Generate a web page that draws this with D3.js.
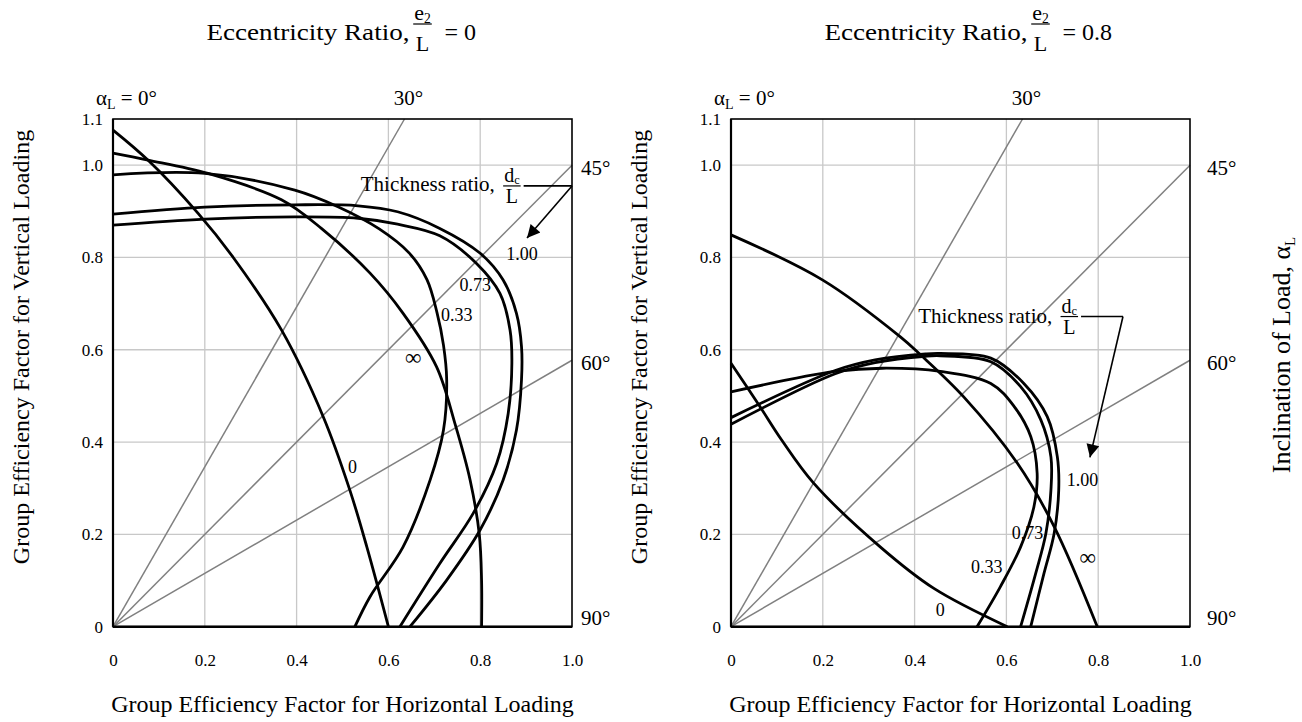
<!DOCTYPE html>
<html>
<head>
<meta charset="utf-8">
<script src="https://cdn.jsdelivr.net/npm/d3@7"></script>
<style>
body { margin: 0; background: #fff; }
svg text { font-family: "Liberation Serif", "Times New Roman", serif; fill: #000; }
</style>
</head>
<body>
<svg id="chart" width="1302" height="722"></svg>
<script>
// axis ticks
const xTicks = [0, 0.2, 0.4, 0.6, 0.8, 1.0];
const yTicks = [0, 0.2, 0.4, 0.6, 0.8, 1.0, 1.1];
// inclination rays (degrees from vertical)
const rayAngles = [30, 45, 60];
const eccRatios = ["0", "0.8"];
const curveNames = ["0", "\u221e", "0.33", "0.73", "1.00"];

// e2/L = 0 : [horizontal factor, vertical factor]
const ecc0_d0 = [[0,1.076],[0.076,1.011],[0.185,0.896],[0.262,0.8],[0.367,0.643],[0.458,0.455],[0.516,0.296],[0.553,0.173],[0.6,0]];
const ecc0_dInf = [[0,1.026],[0.076,1.011],[0.207,0.982],[0.367,0.925],[0.454,0.863],[0.56,0.766],[0.632,0.679],[0.705,0.563],[0.745,0.44],[0.778,0.318],[0.798,0.2],[0.803,0.1],[0.803,0]];
const ecc0_d033 = [[0,0.979],[0.2,0.982],[0.396,0.946],[0.49,0.91],[0.58,0.862],[0.645,0.81],[0.684,0.752],[0.706,0.68],[0.72,0.61],[0.727,0.535],[0.72,0.426],[0.691,0.318],[0.632,0.173],[0.56,0.065],[0.527,0]];
const ecc0_d073 = [[0,0.870],[0.2,0.883],[0.396,0.888],[0.534,0.885],[0.62,0.872],[0.712,0.847],[0.792,0.787],[0.843,0.722],[0.865,0.643],[0.869,0.571],[0.861,0.462],[0.836,0.354],[0.785,0.246],[0.712,0.137],[0.625,0]];
const ecc0_d100 = [[0,0.894],[0.2,0.909],[0.396,0.914],[0.534,0.912],[0.62,0.899],[0.712,0.863],[0.8,0.809],[0.85,0.751],[0.879,0.679],[0.89,0.607],[0.89,0.535],[0.879,0.426],[0.85,0.318],[0.8,0.21],[0.727,0.101],[0.647,0]];

// e2/L = 0.8
const ecc8_d0 = [[0,0.571],[0.063,0.477],[0.11,0.405],[0.18,0.311],[0.325,0.173],[0.442,0.083],[0.602,0]];
const ecc8_dInf = [[0,0.849],[0.2,0.751],[0.369,0.628],[0.413,0.589],[0.507,0.498],[0.624,0.354],[0.704,0.217],[0.798,0]];
const ecc8_d033 = [[0,0.509],[0.227,0.553],[0.33,0.56],[0.456,0.553],[0.566,0.527],[0.617,0.477],[0.653,0.412],[0.667,0.332],[0.66,0.26],[0.631,0.173],[0.587,0.087],[0.536,0]];
const ecc8_d073 = [[0,0.4385],[0.227,0.548],[0.314,0.572],[0.424,0.586],[0.456,0.587],[0.566,0.574],[0.631,0.52],[0.675,0.448],[0.697,0.368],[0.697,0.296],[0.686,0.202],[0.664,0.116],[0.631,0]];
const ecc8_d100 = [[0,0.453],[0.227,0.555],[0.314,0.578],[0.424,0.591],[0.456,0.592],[0.566,0.582],[0.638,0.527],[0.689,0.455],[0.711,0.368],[0.714,0.296],[0.704,0.202],[0.682,0.116],[0.653,0]];

// curve label anchors (data units), same order as curveNames
const ecc0_labelPos = [[0.522,0.347],[0.654,0.584],[0.749,0.675],[0.789,0.740],[0.891,0.807]];
const ecc8_labelPos = [[0.456,0.036],[0.777,0.151],[0.557,0.129],[0.646,0.203],[0.766,0.318]];
// thickness-ratio note: text end, leader end, arrow tip (data units)
const ecc0_note = {text: [0.832, 0.943], bend: [1.0, 0.955], tip: [0.902, 0.842]};
const ecc8_note = {text: [0.70, 0.657], bend: [0.854, 0.672], tip: [0.782, 0.367]};

const W = 459, H = 507.7, plotTop = 119;
const panels = [
  {left: 113, ecc: eccRatios[0], curves: [ecc0_d0, ecc0_dInf, ecc0_d033, ecc0_d073, ecc0_d100], labelPos: ecc0_labelPos, note: ecc0_note, rightGap: 9},
  {left: 731, ecc: eccRatios[1], curves: [ecc8_d0, ecc8_dInf, ecc8_d033, ecc8_d073, ecc8_d100], labelPos: ecc8_labelPos, note: ecc8_note, rightGap: 17}
];

const serif = "'Liberation Serif', 'Times New Roman', serif";
const svg = d3.select("#chart");

svg.append("defs").append("marker")
  .attr("id", "arrow")
  .attr("viewBox", "0 0 10 10")
  .attr("refX", 10).attr("refY", 5)
  .attr("markerWidth", 22).attr("markerHeight", 13)
  .attr("markerUnits", "userSpaceOnUse")
  .attr("orient", "auto")
  .append("path").attr("d", "M0,0 L10,5 L0,10 z").attr("fill", "#000");

// stacked fraction like e2 / L
function fraction(g, cx, yLine, num, sub, den, fs, numOff, denOff) {
  const t = g.append("text")
    .attr("x", cx).attr("y", yLine - numOff)
    .attr("text-anchor", "middle")
    .style("font-size", fs + "px");
  t.append("tspan").text(num);
  if (sub) t.append("tspan").attr("dy", fs * 0.12).style("font-size", (fs * 0.62) + "px").text(sub);
  const w = t.node().getComputedTextLength();
  g.append("line")
    .attr("x1", cx - w / 2 - 1).attr("x2", cx + w / 2 + 1)
    .attr("y1", yLine).attr("y2", yLine)
    .attr("stroke", "#000").attr("stroke-width", 1.2);
  g.append("text")
    .attr("x", cx).attr("y", yLine + denOff)
    .attr("text-anchor", "middle")
    .style("font-size", fs + "px")
    .text(den);
  return w;
}

panels.forEach(p => {
  const x = d3.scaleLinear().domain([0, 1]).range([0, W]);
  const y = d3.scaleLinear().domain([0, 1.1]).range([H, 0]);
  const g = svg.append("g").attr("transform", `translate(${p.left},${plotTop})`);

  // grid
  g.selectAll(".vgrid")
    .data(xTicks.filter(d => d > 0 && d < 1))
    .enter().append("line")
    .attr("x1", d => x(d)).attr("x2", d => x(d))
    .attr("y1", 0).attr("y2", H)
    .attr("stroke", "#c8c8c8").attr("stroke-width", 1.3);
  g.selectAll(".hgrid")
    .data(yTicks.filter(d => d > 0 && d < 1.1))
    .enter().append("line")
    .attr("x1", 0).attr("x2", W)
    .attr("y1", d => y(d)).attr("y2", d => y(d))
    .attr("stroke", "#c8c8c8").attr("stroke-width", 1.3);

  // inclination rays from the origin to the frame
  const rays = rayAngles.map(a => {
    const r = a * Math.PI / 180;
    const t = Math.min(1 / Math.sin(r), 1.1 / Math.cos(r));
    return {a, end: [t * Math.sin(r), t * Math.cos(r)]};
  });
  g.selectAll(".ray")
    .data(rays)
    .enter().append("line")
    .attr("x1", x(0)).attr("y1", y(0))
    .attr("x2", d => x(d.end[0])).attr("y2", d => y(d.end[1]))
    .attr("stroke", "#808080").attr("stroke-width", 1.5);

  // efficiency curves
  const line = d3.line()
    .x(d => x(d[0])).y(d => y(d[1]))
    .curve(d3.curveCatmullRom.alpha(0.5));
  g.selectAll(".curve")
    .data(p.curves)
    .enter().append("path")
    .attr("d", line)
    .attr("fill", "none")
    .attr("stroke", "#000")
    .attr("stroke-width", 2.8);

  // frame
  g.append("rect").attr("width", W).attr("height", H)
    .attr("fill", "none").attr("stroke", "#000").attr("stroke-width", 1.6);
  g.append("line").attr("x1", 0).attr("x2", W).attr("y1", H).attr("y2", H)
    .attr("stroke", "#000").attr("stroke-width", 2.6);
  g.append("line").attr("x1", 0).attr("x2", 0).attr("y1", 0).attr("y2", H)
    .attr("stroke", "#000").attr("stroke-width", 2.2);

  // axes labels
  const fmt = d => d === 0 ? "0" : d3.format(".1f")(d);
  const xa = g.append("g").attr("transform", `translate(0,${H})`)
    .call(d3.axisBottom(x).tickValues(xTicks).tickSize(0).tickPadding(27).tickFormat(fmt));
  const ya = g.append("g")
    .call(d3.axisLeft(y).tickValues(yTicks).tickSize(0).tickPadding(10).tickFormat(fmt));
  [xa, ya].forEach(a => {
    a.attr("font-family", serif).attr("font-size", 17);
    a.select(".domain").remove();
    a.selectAll("text").style("font-family", serif).style("font-size", "17px").attr("fill", "#000");
  });

  // curve labels
  g.selectAll(".clabel")
    .data(curveNames)
    .enter().append("text")
    .attr("x", (d, i) => x(p.labelPos[i][0]))
    .attr("y", (d, i) => y(p.labelPos[i][1]))
    .attr("text-anchor", "middle")
    .attr("dominant-baseline", "central")
    .style("font-size", d => d === "\u221e" ? "23px" : "18px")
    .text(d => d);

  // angle labels
  const a0 = g.append("text").attr("x", -17).attr("y", -14).style("font-size", "21px");
  a0.append("tspan").text("\u03b1");
  a0.append("tspan").attr("dy", 4).style("font-size", "14px").text("L");
  a0.append("tspan").attr("dy", -4).text(" = 0\u00b0");
  rays.forEach(r => {
    if (r.end[1] >= 1.1 - 1e-6) {
      g.append("text").attr("x", x(r.end[0]) + 4).attr("y", -14)
        .attr("text-anchor", "middle").style("font-size", "21px").text(r.a + "\u00b0");
    } else {
      g.append("text").attr("x", W + p.rightGap).attr("y", y(r.end[1]) + 3)
        .attr("dominant-baseline", "central").style("font-size", "21px").text(r.a + "\u00b0");
    }
  });
  g.append("text").attr("x", W + p.rightGap).attr("y", y(0) - 9)
    .attr("dominant-baseline", "central").style("font-size", "21px").text("90\u00b0");

  // thickness ratio note with arrow
  const n = p.note;
  g.append("text").attr("x", x(n.text[0])).attr("y", y(n.text[1]))
    .attr("text-anchor", "end").style("font-size", "21px").text("Thickness ratio,");
  const fx = x(n.text[0]) + 17;
  const fw = fraction(g, fx, y(n.bend[1]), "d", "c", "L", 20, 4, 17);
  g.append("line")
    .attr("x1", fx + fw / 2 + 4).attr("x2", x(n.bend[0]))
    .attr("y1", y(n.bend[1])).attr("y2", y(n.bend[1]))
    .attr("stroke", "#000").attr("stroke-width", 1.6);
  g.append("line")
    .attr("x1", x(n.bend[0])).attr("y1", y(n.bend[1]))
    .attr("x2", x(n.tip[0])).attr("y2", y(n.tip[1]))
    .attr("stroke", "#000").attr("stroke-width", 1.6)
    .attr("marker-end", "url(#arrow)");

  // panel title
  const cx = p.left + W / 2;
  const tg = svg.append("g");
  tg.append("text").attr("x", cx - 136).attr("y", 40)
    .style("font-size", "24px")
    .attr("textLength", 203).attr("lengthAdjust", "spacingAndGlyphs")
    .text("Eccentricity Ratio,");
  fraction(tg, cx - 136 + 216, 24, "e", "2", "L", 22, 4, 27);
  tg.append("text").attr("x", cx - 136 + 238).attr("y", 40).style("font-size", "24px").text("= " + p.ecc);

  // axis titles
  svg.append("text").attr("x", cx).attr("y", 712)
    .attr("text-anchor", "middle").style("font-size", "24px")
    .text("Group Efficiency Factor for Horizontal Loading");
  svg.append("text")
    .attr("transform", `translate(${p.left - 84},347) rotate(-90)`)
    .attr("text-anchor", "middle").style("font-size", "24px")
    .text("Group Efficiency Factor for Vertical Loading");
});

// right-hand title
const rt = svg.append("text")
  .attr("transform", "translate(1290,355) rotate(-90)")
  .attr("text-anchor", "middle").style("font-size", "26px");
rt.append("tspan").text("Inclination of Load, \u03b1");
rt.append("tspan").attr("dy", 5).style("font-size", "15px").text("L");
</script>
</body>
</html>
